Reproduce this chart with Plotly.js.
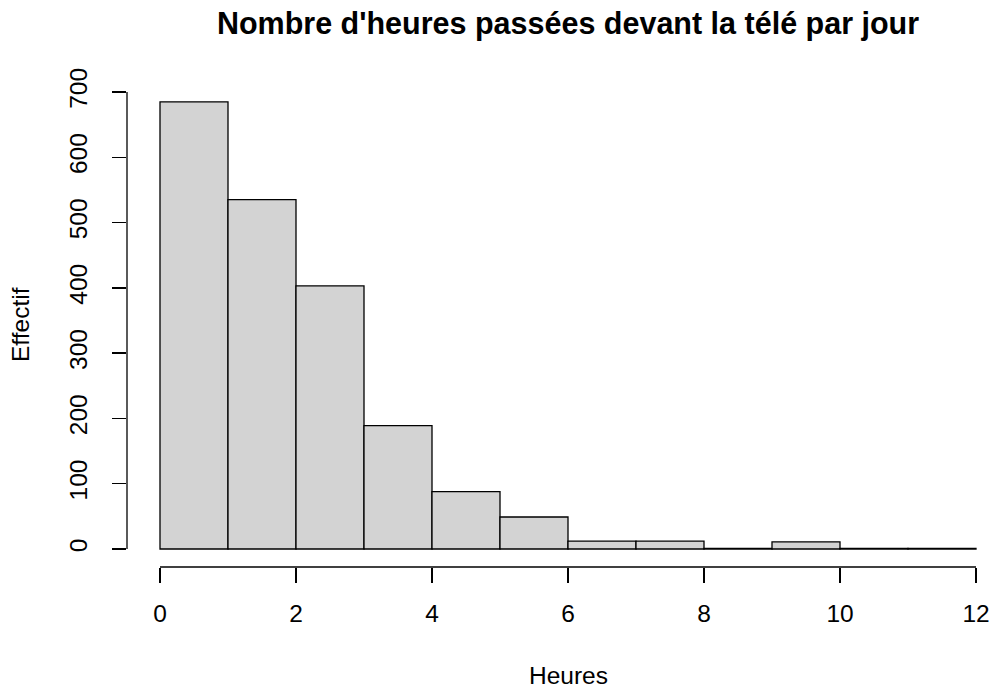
<!DOCTYPE html>
<html>
<head>
<meta charset="utf-8">
<script src="https://cdn.plot.ly/plotly-3.0.1.min.js"></script>
<style>html,body{margin:0;padding:0;background:#fff;}#chart{width:994px;height:688px;}</style>
</head>
<body>
<div id="chart"></div>
<script>
var binStart = [0, 1, 2, 3, 4, 5, 6, 7, 8, 9, 10, 11];
var binEnd   = [1, 2, 3, 4, 5, 6, 7, 8, 9, 10, 11, 12];
var counts   = [685, 535, 403, 189, 88, 49, 12, 12, 1, 11, 1, 1];
var xTicks = [0, 2, 4, 6, 8, 10, 12];
var yTicks = [0, 100, 200, 300, 400, 500, 600, 700];
var titleText = "Nombre d'heures passées devant la télé par jour";
var xLabel = "Heures";
var yLabel = "Effectif";

var mids = binStart.map(function(s, i){ return (s + binEnd[i]) / 2; });
var widths = binStart.map(function(s, i){ return binEnd[i] - s; });

var fam = "Liberation Sans, Arial, sans-serif";
var fs = 24.5;

var trace = {
  type: "bar",
  x: mids,
  y: counts,
  width: widths,
  marker: {color: "#D3D3D3", line: {color: "#000", width: 1.3}},
  hoverinfo: "x+y"
};

var layout = {
  width: 994, height: 688,
  margin: {l: 127, r: 0, t: 80, b: 121, autoexpand: false},
  paper_bgcolor: "#fff", plot_bgcolor: "#fff",
  showlegend: false,
  bargap: 0,
  font: {family: fam, size: fs, color: "#000"},
  title: {text: "<b>" + titleText + "</b>", x: 568/994, xref: "container", xanchor: "center",
          y: 1 - 23/688, yref: "container", yanchor: "middle",
          font: {family: fam, size: 30.5, color: "#000"}},
  xaxis: {
    range: [-33/68, 12 + 18/68],
    tickvals: xTicks, ticktext: xTicks.map(String),
    ticks: "outside", ticklen: 15, tickwidth: 1.3, tickcolor: "#000",
    showgrid: false, zeroline: false, showline: false,
    tickfont: {family: fam, size: fs, color: "#000"},
    ticklabelstandoff: 10,
    automargin: false,
    fixedrange: true
  },
  yaxis: {
    range: [-(567 - 549) / (457/700), 700 + (92 - 80) / (457/700)],
    tickvals: yTicks, ticktext: yTicks.map(String),
    tickangle: -90,
    ticks: "outside", ticklen: 14, tickwidth: 1.3, tickcolor: "#000",
    showgrid: false, zeroline: false, showline: false,
    tickfont: {family: fam, size: fs, color: "#000"},
    ticklabelstandoff: 15,
    automargin: false,
    fixedrange: true
  },
  shapes: [
    {type: "line", xref: "x", yref: "paper", x0: xTicks[0], x1: xTicks[xTicks.length-1], y0: 0, y1: 0,
     line: {color: "#000", width: 1.3}},
    {type: "line", xref: "paper", yref: "y", x0: 0, x1: 0, y0: yTicks[0], y1: yTicks[yTicks.length-1],
     line: {color: "#000", width: 1.3}}
  ],
  annotations: [
    {text: xLabel, xref: "x", x: 6, yref: "paper", y: -(675 - 567) / 487, yanchor: "middle",
     showarrow: false, font: {family: fam, size: fs, color: "#000"}},
    {text: yLabel, xref: "paper", x: -(127 - 20) / 867, xanchor: "center", yref: "paper", y: (567 - 325) / 487,
     yanchor: "middle", textangle: -90, showarrow: false, font: {family: fam, size: fs, color: "#000"}}
  ]
};

Plotly.newPlot("chart", [trace], layout, {displayModeBar: false, staticPlot: true});
</script>
</body>
</html>
